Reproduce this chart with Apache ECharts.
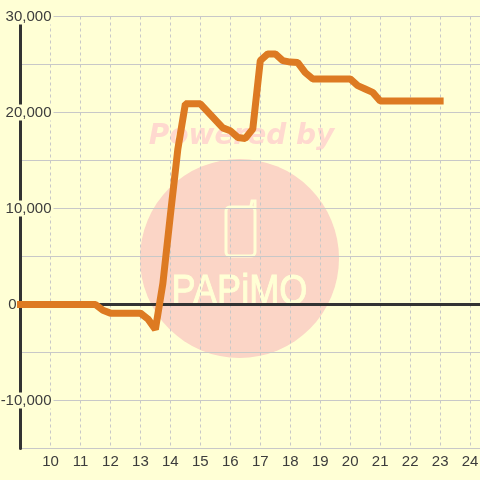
<!DOCTYPE html>
<html>
<head>
<meta charset="utf-8">
<style>html,body{margin:0;padding:0;background:#ffffd5}#main{width:480px;height:480px}</style>
<script src="https://cdn.jsdelivr.net/npm/echarts@6/dist/echarts.min.js"></script>
</head>
<body>
<div id="main"></div>
<script>
// 時刻 (hour) / 値
const hours = [9,11.5,11.75,12,13,13.25,13.5,13.75,14,14.25,14.5,15,15.75,16,16.25,16.5,16.75,17,17.25,17.5,17.75,18,18.25,18.5,18.75,20,20.25,20.5,20.75,21,23]
const values = [0,0,-600,-900,-900,-1500,-2600,2200,9300,16200,20900,20900,18400,18100,17400,17300,18300,25400,26100,26100,25400,25250,25200,24150,23500,23500,22800,22450,22100,21200,21200]
const zeroHours = [9,24.33]
const zeroValues = [0,0]

const bg = '#ffffd5'
const dark = '#333333'
const labelColor = '#3c3c3c'
const grid = '#c8c8c8'
const pink = '#fbd5c6'
const cream = '#ffffd5'

const toPairs = (xs,ys) => xs.map((x,i)=>[x,ys[i]])

let myChart = echarts.init(document.getElementById('main'))
let option = {
  backgroundColor: bg,
  animation: false,
  grid: {left: 20.5, right: 0, top: 16.5, bottom: 31.5, outerBoundsMode: 'none'},
  xAxis: {
    type: 'value', min: 9, max: 24.33, interval: 1,
    axisLine: {show: false}, axisTick: {show: false},
    axisLabel: {color: labelColor, fontSize: 15, fontFamily: 'Liberation Sans', margin: 6, showMinLabel: false, showMaxLabel: false},
    splitLine: {show: true, lineStyle: {color: grid, type: [3,3], width: 1}}
  },
  yAxis: {
    type: 'value', min: -15000, max: 30000, interval: 5000,
    axisLine: {show: true, onZero: false, lineStyle: {color: dark, width: 3}},
    axisTick: {show: false},
    axisLabel: {
      color: labelColor, fontSize: 15, fontFamily: 'Liberation Sans', margin: -33,
      formatter: function(v){
        if(v === 0) return '{z|0}'
        if(v % 10000 !== 0) return ''
        return '{a|' + v.toLocaleString('en-US') + '}'
      },
      rich: {
        a: {backgroundColor: bg, padding: [1,2,0,1], fontSize: 15, color: labelColor, fontFamily: 'Liberation Sans'},
        z: {padding: [1,37,0,0], fontSize: 15, color: labelColor, fontFamily: 'Liberation Sans'}
      }
    },
    splitLine: {show: true, lineStyle: {color: grid, width: 1}}
  },
  graphic: [
    {type: 'circle', z: -10, shape: {cx: 239.5, cy: 258.5, r: 99.5}, style: {fill: pink}},
    {type: 'text', z: -9, x: 241.5, y: 151, style: {text: 'Powered by', fill: '#ffd9cf', font: 'italic bold 28px "DejaVu Sans"', textAlign: 'center', textVerticalAlign: 'bottom'}},
    {type: 'rect', z: -9, shape: {x: 226, y: 207, width: 29, height: 49, r: 4}, style: {fill: 'none', stroke: cream, lineWidth: 3}},
    {type: 'polyline', z: -9, shape: {points: [[251,206],[252,201],[255,201],[255,208]]}, style: {fill: 'none', stroke: cream, lineWidth: 3, lineCap: 'round'}},
    {type: 'text', z: -9, x: 239.5, y: 314, scaleX: 0.84, style: {text: 'PAPiMO', fill: cream, stroke: cream, lineWidth: 1, font: '43px "Liberation Sans"', textAlign: 'center', textVerticalAlign: 'bottom'}}
  ],
  series: [
    {type: 'line', name: 'zero', z: 1, data: toPairs(zeroHours,zeroValues), showSymbol: false, silent: true, lineStyle: {color: dark, width: 3}},
    {type: 'line', name: 'value', z: 3, clip: false, data: toPairs(hours,values), showSymbol: false, lineStyle: {color: '#dd7a22', width: 7, cap: 'square', join: 'bevel'}}
  ]
}
myChart.setOption(option)
</script>
</body>
</html>
